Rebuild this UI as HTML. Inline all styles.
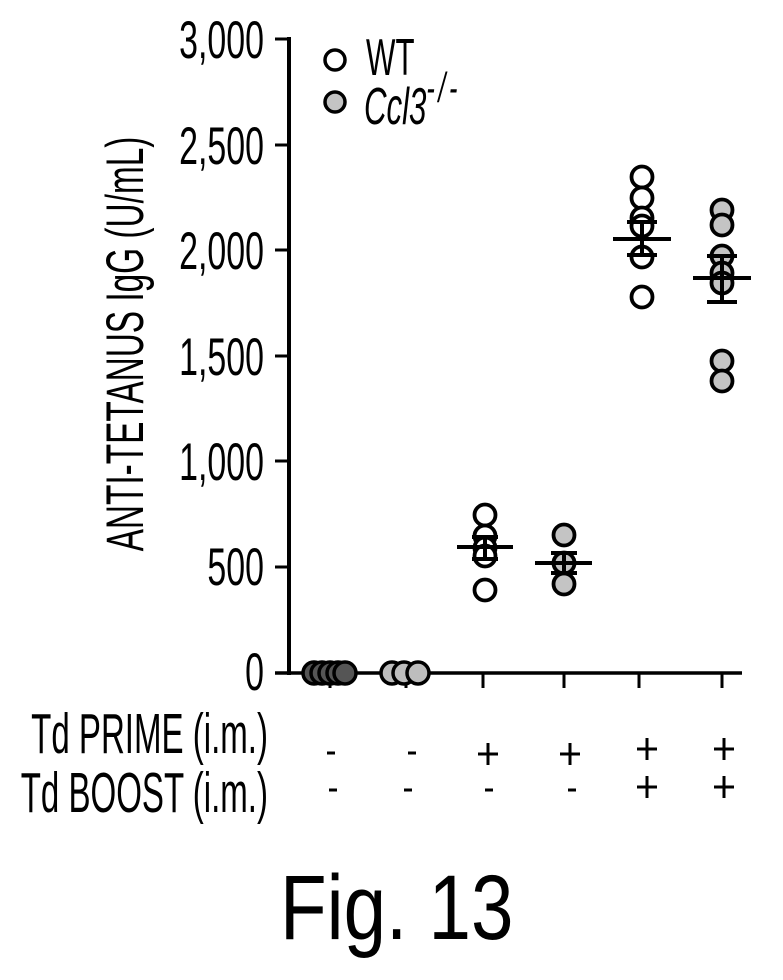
<!DOCTYPE html>
<html>
<head>
<meta charset="utf-8">
<style>
  html, body { margin:0; padding:0; background:#fff; }
  body { width:783px; height:980px; overflow:hidden; }
  svg { display:block; }
  text { font-family: "Liberation Sans", "DejaVu Sans", sans-serif; fill:#000; }
</style>
</head>
<body>
<svg width="783" height="980" viewBox="0 0 783 980" xmlns="http://www.w3.org/2000/svg">
  <rect x="0" y="0" width="783" height="980" fill="#fff"/>

  <!-- Y axis -->
  <line x1="289" y1="37" x2="289" y2="675" stroke="#000" stroke-width="4"/>
  <g stroke="#000" stroke-width="3">
    <line x1="275" y1="39" x2="289" y2="39"/>
    <line x1="275" y1="145" x2="289" y2="145"/>
    <line x1="275" y1="250" x2="289" y2="250"/>
    <line x1="275" y1="356" x2="289" y2="356"/>
    <line x1="275" y1="461" x2="289" y2="461"/>
    <line x1="275" y1="567" x2="289" y2="567"/>
  </g>
  <!-- X axis -->
  <line x1="275" y1="673" x2="742" y2="673" stroke="#000" stroke-width="3.5"/>
  <g stroke="#000" stroke-width="3">
    <line x1="330" y1="673" x2="330" y2="688"/>
    <line x1="406" y1="673" x2="406" y2="688"/>
    <line x1="483" y1="673" x2="483" y2="688"/>
    <line x1="564" y1="673" x2="564" y2="688"/>
    <line x1="639" y1="673" x2="639" y2="688"/>
    <line x1="722" y1="673" x2="722" y2="688"/>
  </g>

  <!-- Y tick labels -->
  <g font-size="53" text-anchor="end">
    <g transform="translate(264,58) scale(0.64,1)"><text x="0" y="0">3,000</text></g>
    <g transform="translate(264,164) scale(0.64,1)"><text x="0" y="0">2,500</text></g>
    <g transform="translate(264,269) scale(0.64,1)"><text x="0" y="0">2,000</text></g>
    <g transform="translate(264,375) scale(0.64,1)"><text x="0" y="0">1,500</text></g>
    <g transform="translate(264,480) scale(0.64,1)"><text x="0" y="0">1,000</text></g>
    <g transform="translate(264,585) scale(0.64,1)"><text x="0" y="0">500</text></g>
    <g transform="translate(264,690) scale(0.64,1)"><text x="0" y="0">0</text></g>
  </g>

  <!-- Y axis title -->
  <g transform="translate(143,344) rotate(-90) scale(0.63,1)">
    <text x="0" y="0" font-size="53" text-anchor="middle">ANTI-TETANUS IgG (U/mL)</text>
  </g>

  <!-- Legend -->
  <circle cx="335" cy="60" r="10" fill="#fff" stroke="#000" stroke-width="3.5"/>
  <circle cx="335" cy="102" r="10" fill="#c4c4c4" stroke="#000" stroke-width="3.5"/>
  <g transform="translate(366,75) scale(0.6,1)">
    <text x="0" y="0" font-size="52">WT</text>
  </g>
  <g transform="translate(364,124) scale(0.6,1)">
    <text x="0" y="0" font-size="52" font-style="italic">Ccl3<tspan font-size="42" dy="-22" letter-spacing="6">-/-</tspan></text>
  </g>

  <!-- Group 1 (at zero, dark blob) -->
  <g stroke="#000" stroke-width="3.5" fill="#555">
    <circle cx="314" cy="673" r="11"/>
    <circle cx="322" cy="673" r="11"/>
    <circle cx="330" cy="673" r="11"/>
    <circle cx="338" cy="673" r="11"/>
    <circle cx="345" cy="673" r="11"/>
  </g>
  <!-- Group 2 (at zero, light) -->
  <g stroke="#000" stroke-width="3.5" fill="#bdbdbd">
    <circle cx="392" cy="673" r="11"/>
    <circle cx="404" cy="673" r="11"/>
    <circle cx="418" cy="673" r="11"/>
  </g>

  <!-- Group 3 WT prime -->
  <g stroke="#000" stroke-width="3.8" fill="#fff">
    <circle cx="485" cy="515" r="10.5"/>
    <circle cx="485" cy="536" r="10.5"/>
    <circle cx="485" cy="548" r="10.5"/>
    <circle cx="485" cy="556" r="10.5"/>
    <circle cx="485" cy="590" r="10.5"/>
  </g>
  <g stroke="#000" stroke-width="4">
    <line x1="457" y1="547" x2="513" y2="547"/>
    <line x1="485" y1="537" x2="485" y2="559"/>
    <line x1="472" y1="559" x2="498" y2="559"/>
    <line x1="472" y1="537" x2="498" y2="537"/>
  </g>

  <!-- Group 4 Ccl3 prime -->
  <g stroke="#000" stroke-width="3.8" fill="#c4c4c4">
    <circle cx="564" cy="535" r="10.5"/>
    <circle cx="564" cy="563" r="10.5"/>
    <circle cx="564" cy="584" r="10.5"/>
  </g>
  <g stroke="#000" stroke-width="4">
    <line x1="535" y1="563" x2="592" y2="563"/>
    <line x1="551" y1="553" x2="577" y2="553"/>
    <line x1="564" y1="553" x2="564" y2="573"/>
    <line x1="551" y1="573" x2="577" y2="573"/>
  </g>

  <!-- Group 5 WT prime+boost -->
  <g stroke="#000" stroke-width="3.8" fill="#fff">
    <circle cx="642" cy="177" r="10.5"/>
    <circle cx="642" cy="198" r="10.5"/>
    <circle cx="642" cy="218" r="10.5"/>
    <circle cx="642" cy="226" r="10.5"/>
    <circle cx="642" cy="257" r="10.5"/>
    <circle cx="642" cy="297" r="10.5"/>
  </g>
  <g stroke="#000" stroke-width="4">
    <line x1="613" y1="239" x2="671" y2="239"/>
    <line x1="642" y1="222" x2="642" y2="255"/>
    <line x1="627" y1="222" x2="657" y2="222"/>
    <line x1="627" y1="255" x2="657" y2="255"/>
  </g>

  <!-- Group 6 Ccl3 prime+boost -->
  <g stroke="#000" stroke-width="3.8" fill="#c4c4c4">
    <circle cx="722" cy="210" r="10.5"/>
    <circle cx="722" cy="225" r="10.5"/>
    <circle cx="722" cy="256" r="10.5"/>
    <circle cx="722" cy="273" r="10.5"/>
    <circle cx="722" cy="283" r="10.5"/>
    <circle cx="722" cy="361" r="10.5"/>
    <circle cx="722" cy="381" r="10.5"/>
  </g>
  <g stroke="#000" stroke-width="4">
    <line x1="693" y1="278" x2="751" y2="278"/>
    <line x1="722" y1="256" x2="722" y2="302"/>
    <line x1="707" y1="302" x2="737" y2="302"/>
    <line x1="707" y1="256" x2="737" y2="256"/>
  </g>

  <!-- Bottom row labels -->
  <g transform="translate(268,753) scale(0.58,1)">
    <text x="0" y="0" font-size="57" text-anchor="end">Td PRIME (i.m.)</text>
  </g>
  <g transform="translate(268,812) scale(0.58,1)">
    <text x="0" y="0" font-size="57" text-anchor="end">Td BOOST (i.m.)</text>
  </g>

  <!-- +/- signs -->
  <g stroke="#000" stroke-width="3" fill="none">
    <!-- row 1 -->
    <line x1="327" y1="753" x2="335" y2="753"/>
    <line x1="408" y1="753" x2="416" y2="753"/>
    <line x1="478" y1="754" x2="498" y2="754"/>
    <line x1="488" y1="743" x2="488" y2="765"/>
    <line x1="560" y1="754" x2="580" y2="754"/>
    <line x1="570" y1="743" x2="570" y2="765"/>
    <line x1="637" y1="749" x2="657" y2="749"/>
    <line x1="647" y1="738" x2="647" y2="760"/>
    <line x1="714" y1="749" x2="734" y2="749"/>
    <line x1="724" y1="738" x2="724" y2="760"/>
    <!-- row 2 -->
    <line x1="329" y1="790" x2="337" y2="790"/>
    <line x1="404" y1="790" x2="412" y2="790"/>
    <line x1="485" y1="790" x2="493" y2="790"/>
    <line x1="568" y1="790" x2="576" y2="790"/>
    <line x1="637" y1="787" x2="657" y2="787"/>
    <line x1="647" y1="776" x2="647" y2="798"/>
    <line x1="714" y1="787" x2="734" y2="787"/>
    <line x1="724" y1="776" x2="724" y2="798"/>
  </g>

  <!-- Figure caption -->
  <g transform="translate(280,939) scale(0.83,1)">
    <text x="0" y="0" font-size="92">Fig. 13</text>
  </g>
</svg>
</body>
</html>
